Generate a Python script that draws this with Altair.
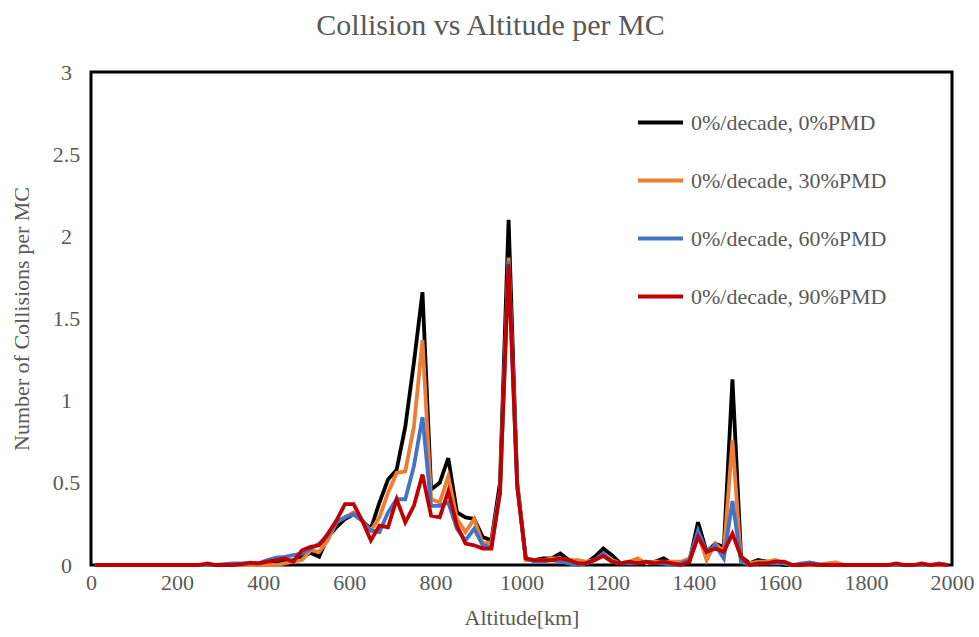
import altair as alt
import pandas as pd

altitudes = list(range(10, 2000, 20))

series_names = [
    "0%/decade, 0%PMD",
    "0%/decade, 30%PMD",
    "0%/decade, 60%PMD",
    "0%/decade, 90%PMD",
]
series_colors = ["#000000", "#ED7D31", "#4472C4", "#C00000"]

black = [
    0, 0, 0, 0, 0, 0, 0, 0, 0, 0,
    0, 0, 0, 0, 0, 0, 0, 0, 0, 0,
    0.01, 0.015, 0.02, 0.03, 0.05, 0.075, 0.05, 0.17, 0.23, 0.28,
    0.31, 0.27, 0.22, 0.38, 0.52, 0.58, 0.84, 1.23, 1.66, 0.46,
    0.50, 0.65, 0.32, 0.29, 0.28, 0.17, 0.15, 0.50, 2.10, 0.50,
    0.03, 0.03, 0.04, 0.04, 0.07, 0.03, 0.02, 0.01, 0.05, 0.10,
    0.06, 0.01, 0.01, 0.02, 0.01, 0.02, 0.04, 0.01, 0.01, 0.02,
    0.26, 0.08, 0.13, 0.11, 1.13, 0.05, 0.01, 0.03, 0.02, 0.01,
    0, 0, 0, 0, 0, 0, 0, 0, 0, 0,
    0, 0, 0, 0, 0, 0, 0, 0, 0, 0,
]
orange = [
    0, 0, 0, 0, 0, 0, 0, 0, 0, 0,
    0, 0, 0, 0, 0, 0, 0, 0, 0, 0,
    0, 0, 0.01, 0.02, 0.03, 0.09, 0.08, 0.15, 0.26, 0.29,
    0.32, 0.27, 0.21, 0.29, 0.44, 0.56, 0.57, 0.84, 1.37, 0.40,
    0.38, 0.54, 0.28, 0.20, 0.28, 0.13, 0.14, 0.45, 1.87, 0.50,
    0.03, 0.03, 0.03, 0.04, 0.04, 0.03, 0.03, 0.02, 0.03, 0.06,
    0.03, 0.01, 0.02, 0.04, 0.01, 0.02, 0.02, 0.02, 0.02, 0.04,
    0.19, 0.03, 0.13, 0.08, 0.76, 0.02, 0.01, 0.02, 0.02, 0.03,
    0.01, 0, 0, 0, 0, 0.01, 0.015, 0, 0, 0,
    0, 0, 0, 0, 0, 0, 0, 0, 0, 0,
]
blue = [
    0, 0, 0, 0, 0, 0, 0, 0, 0, 0,
    0, 0, 0, 0, 0, 0.005, 0.01, 0.01, 0.01, 0.01,
    0.03, 0.045, 0.05, 0.06, 0.07, 0.10, 0.13, 0.18, 0.26, 0.29,
    0.31, 0.27, 0.21, 0.20, 0.32, 0.40, 0.40, 0.60, 0.90, 0.36,
    0.36, 0.38, 0.22, 0.15, 0.22, 0.12, 0.11, 0.44, 1.85, 0.48,
    0.04, 0.02, 0.02, 0.03, 0.02, 0.01, 0, 0.01, 0.03, 0.07,
    0.02, 0.01, 0.01, 0.01, 0.02, 0.01, 0.01, 0, 0.01, 0.03,
    0.21, 0.08, 0.12, 0.04, 0.39, 0.02, 0, 0.01, 0.01, 0.01,
    0.01, 0, 0.01, 0.015, 0.005, 0, 0, 0, 0, 0,
    0, 0, 0, 0, 0, 0, 0, 0, 0.01, 0,
]
red = [
    0, 0, 0, 0, 0, 0, 0, 0, 0, 0,
    0, 0, 0, 0.01, 0, 0, 0, 0.005, 0.014, 0.01,
    0.02, 0.03, 0.04, 0.02, 0.09, 0.11, 0.12, 0.19, 0.27, 0.37,
    0.37, 0.27, 0.15, 0.24, 0.23, 0.40, 0.26, 0.36, 0.55, 0.30,
    0.29, 0.45, 0.24, 0.13, 0.12, 0.10, 0.10, 0.44, 1.83, 0.48,
    0.04, 0.03, 0.03, 0.03, 0.04, 0.03, 0.01, 0.01, 0.03, 0.055,
    0.02, 0.01, 0.02, 0.01, 0.02, 0.01, 0.02, 0.01, 0, 0.02,
    0.17, 0.08, 0.10, 0.08, 0.19, 0.05, 0, 0.01, 0.01, 0.02,
    0.02, 0, 0, 0.005, 0, 0, 0, 0, 0, 0,
    0, 0, 0, 0.01, 0, 0, 0.01, 0, 0.005, 0,
]

rows = []
for idx, (name, vals) in enumerate(zip(series_names, [black, orange, blue, red])):
    for a, v in zip(altitudes, vals):
        rows.append({"Altitude": a, "Collisions": v, "Series": name, "k": idx})
df = pd.DataFrame(rows)

FONT = "Liberation Serif"
GRAY = "#595959"

chart = alt.Chart(df).mark_line(strokeWidth=3.8, strokeJoin="miter").encode(
    x=alt.X("Altitude:Q",
            scale=alt.Scale(domain=[0, 2000], nice=False),
            axis=alt.Axis(title="Altitude[km]", values=list(range(0, 2001, 200)),
                          format="d", grid=False, domain=False, ticks=False,
                          labelFlush=False, labelPadding=7, titlePadding=14)),
    y=alt.Y("Collisions:Q",
            scale=alt.Scale(domain=[0, 3], nice=False),
            axis=alt.Axis(title="Number of Collisions per MC", values=[0, 0.5, 1, 1.5, 2, 2.5, 3],
                          format="~g", grid=False, domain=False, ticks=False,
                          labelAlign="center", labelFlush=False,
                          labelPadding=25, titlePadding=19)),
    color=alt.Color("Series:N",
                    scale=alt.Scale(domain=series_names, range=series_colors),
                    legend=alt.Legend(title=None, orient="none", legendX=545, legendY=26,
                                      symbolType="stroke", symbolSize=2025,
                                      symbolStrokeWidth=4, rowPadding=22,
                                      labelFont=FONT, labelFontSize=22, labelLimit=0,
                                      labelColor=GRAY, labelOffset=6)),
    detail="k:N",
).properties(
    width=861,
    height=493,
    title=alt.TitleParams("Collision vs Altitude per MC", font=FONT, fontSize=30,
                          color=GRAY, fontWeight="normal", dx=-31, offset=20),
    autosize=alt.AutoSizeParams(type="none"),
    padding={"left": 91, "top": 72, "right": 27, "bottom": 72},
    background="white",
).configure_view(
    stroke="#000000", strokeWidth=3
).configure_axis(
    labelFont=FONT, labelFontSize=22, labelColor=GRAY,
    titleFont=FONT, titleFontSize=22, titleColor=GRAY, titleFontWeight="normal"
)

chart.save("out.html", embed_options={"renderer": "svg", "actions": False})
